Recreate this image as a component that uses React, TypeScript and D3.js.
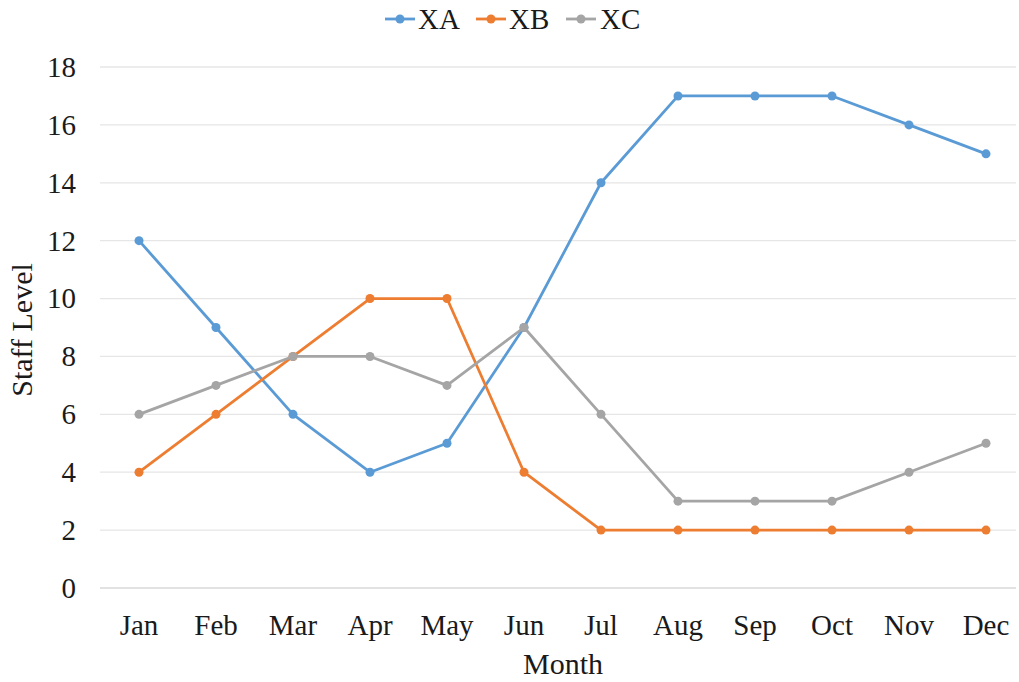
import React from "react";
import * as d3 from "d3";

const months = ["Jan", "Feb", "Mar", "Apr", "May", "Jun", "Jul", "Aug", "Sep", "Oct", "Nov", "Dec"];
const xaValues = [12, 9, 6, 4, 5, 9, 14, 17, 17, 17, 16, 15];
const xbValues = [4, 6, 8, 10, 10, 4, 2, 2, 2, 2, 2, 2];
const xcValues = [6, 7, 8, 8, 7, 9, 6, 3, 3, 3, 4, 5];
const yTicks = [0, 2, 4, 6, 8, 10, 12, 14, 16, 18];

const seriesList = [
  { name: "XA", values: xaValues, color: "#5B9BD5" },
  { name: "XB", values: xbValues, color: "#ED7D31" },
  { name: "XC", values: xcValues, color: "#A5A5A5" },
];

const W = 1019;
const H = 682;
const FONT = "'Liberation Serif', 'Times New Roman', serif";
const textStyle = { fontFamily: FONT };

export default function App() {
  const x = d3.scalePoint<string>().domain(months).range([139, 986]);
  const y = d3.scaleLinear().domain([0, 18]).range([588, 67]);
  const line = d3
    .line<number>()
    .x((_, i) => x(months[i]) as number)
    .y((d) => y(d))
    .curve(d3.curveLinear);

  const legendItems = [
    { lineX: 385, textX: 418 },
    { lineX: 476, textX: 509 },
    { lineX: 566, textX: 600 },
  ];

  return (
    <svg
      width={W}
      height={H}
      style={{ position: "absolute", left: 0, top: 0, background: "#fff" }}
    >
      {/* horizontal gridlines */}
      {yTicks.map((t) => (
        <line
          key={t}
          x1={100}
          x2={1016}
          y1={y(t)}
          y2={y(t)}
          stroke={t === 0 ? "#D9D9D9" : "#E6E6E6"}
          strokeWidth={1.3}
        />
      ))}
      {/* y tick labels */}
      {yTicks.map((t) => (
        <text key={t} x={76} y={y(t)} dy="0.34em" textAnchor="end" fontSize={29} fill="#1a1a1a" style={textStyle}>
          {t}
        </text>
      ))}
      {/* x tick labels */}
      {months.map((m) => (
        <text key={m} x={x(m)} y={635} textAnchor="middle" fontSize={29} fill="#1a1a1a" style={textStyle}>
          {m}
        </text>
      ))}
      {/* axis titles */}
      <text x={563} y={674} textAnchor="middle" fontSize={30} fill="#1a1a1a" style={textStyle}>
        Month
      </text>
      <text
        transform={`translate(32, 330) rotate(-90)`}
        textAnchor="middle"
        fontSize={30}
        fill="#1a1a1a"
        style={textStyle}
      >
        Staff Level
      </text>
      {/* series */}
      {seriesList.map((s) => (
        <g key={s.name}>
          <path d={line(s.values) || ""} fill="none" stroke={s.color} strokeWidth={2.8} strokeLinejoin="round" />
          {s.values.map((v, i) => (
            <circle key={i} cx={x(months[i])} cy={y(v)} r={4.5} fill={s.color} />
          ))}
        </g>
      ))}
      {/* legend */}
      {seriesList.map((s, i) => (
        <g key={s.name}>
          <line
            x1={legendItems[i].lineX}
            x2={legendItems[i].lineX + 30}
            y1={19}
            y2={19}
            stroke={s.color}
            strokeWidth={2.8}
          />
          <circle cx={legendItems[i].lineX + 15} cy={19} r={4.5} fill={s.color} />
          <text x={legendItems[i].textX} y={19} dy="0.34em" fontSize={29} fill="#1a1a1a" style={textStyle}>
            {s.name}
          </text>
        </g>
      ))}
    </svg>
  );
}
